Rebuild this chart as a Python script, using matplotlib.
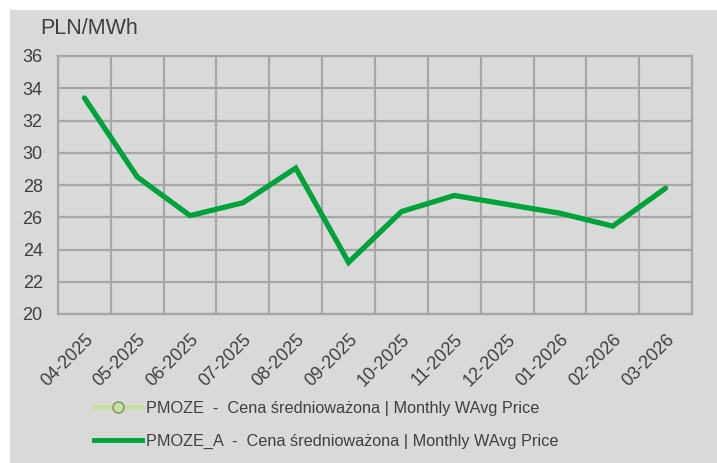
import matplotlib
matplotlib.use("Agg")
import matplotlib.pyplot as plt
from matplotlib.lines import Line2D
from matplotlib.patches import Rectangle

months = ["04-2025", "05-2025", "06-2025", "07-2025", "08-2025", "09-2025",
          "10-2025", "11-2025", "12-2025", "01-2026", "02-2026", "03-2026"]
pmoze_a = [33.4, 28.5, 26.1, 26.9, 29.05, 23.2, 26.35, 27.35, 26.8, 26.25, 25.45, 27.8]
y_ticks = [20, 22, 24, 26, 28, 30, 32, 34, 36]

BG = "#d9d9d9"
GRID = "#a6a6a6"
TEXT = "#404040"
GREEN = "#00a33a"
LIGHT = "#c5e0a0"

plt.rcParams["font.family"] = ["Liberation Sans", "DejaVu Sans"]

fig = plt.figure(figsize=(7.17, 4.63), dpi=100)
fig.patch.set_facecolor("white")
fig.patches.append(Rectangle((10 / 717, 0), 1, 1 - 10 / 463,
                             transform=fig.transFigure, facecolor=BG,
                             edgecolor="none", zorder=-10))

ax = fig.add_axes([58 / 717, 1 - 314 / 463, 634 / 717, 258 / 463])
ax.set_facecolor(BG)
x = list(range(len(months)))
ax.plot(x, pmoze_a, color=GREEN, lw=3.8, solid_capstyle="round",
        solid_joinstyle="miter", zorder=3)

ax.set_xlim(-0.5, len(months) - 0.5)
ax.set_ylim(20, 36)
ax.set_yticks(y_ticks)
ax.set_xticks([i - 0.5 for i in range(len(months) + 1)], minor=False)
ax.set_xticklabels([])
ax.set_xticks(x, minor=True)
ax.set_xticklabels(months, minor=True, rotation=45, ha="right",
                   rotation_mode="anchor", fontsize=13, color=TEXT)
ax.tick_params(axis="x", which="both", length=0)
ax.tick_params(axis="x", which="minor", pad=12)
ax.tick_params(axis="y", length=0, labelsize=13, labelcolor=TEXT, pad=11)
ax.grid(True, which="major", color=GRID, lw=1.6)
ax.set_axisbelow(True)
for s in ax.spines.values():
    s.set_color(GRID)
    s.set_linewidth(1.6)

fig.text(40 / 717, 1 - 28 / 463, "PLN/MWh", fontsize=15.5, color=TEXT,
         va="center", ha="left")

handles = [
    Line2D([], [], color=LIGHT, lw=3.5, marker="o", markersize=8,
           markerfacecolor=LIGHT, markeredgecolor="#7f8f5f"),
    Line2D([], [], color=GREEN, lw=3.5),
]
labels = ["PMOZE  -  Cena średnioważona | Monthly WAvg Price",
          "PMOZE_A  -  Cena średnioważona | Monthly WAvg Price"]
fig.legend(handles, labels, loc="center left",
           bbox_to_anchor=(94 / 717, 1 - 425 / 463), frameon=False,
           fontsize=11.7, labelcolor=TEXT, handlelength=2.95,
           handletextpad=0.25, labelspacing=1.1, borderpad=0,
           borderaxespad=0)

fig.savefig("out.png", dpi=100, facecolor=fig.get_facecolor())
